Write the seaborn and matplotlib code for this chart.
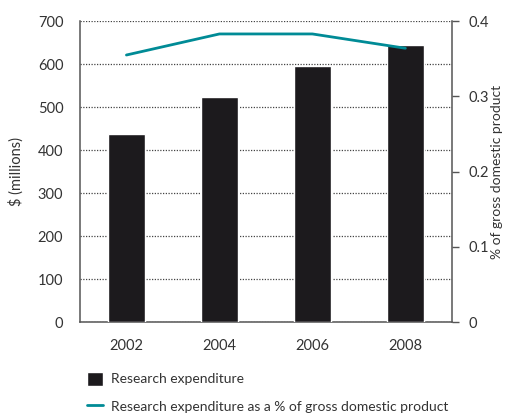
import matplotlib
matplotlib.use("Agg")
import matplotlib.pyplot as plt
import seaborn as sns
import numpy as np
import pandas as pd
from matplotlib.ticker import FixedLocator

# Research spending, 2002-2008
years = ["2002", "2004", "2006", "2008"]
expenditure = [437, 523, 595, 644]          # $ millions
pct_gdp = [0.355, 0.383, 0.383, 0.364]      # % of GDP
left_ticks = [0, 100, 200, 300, 400, 500, 600, 700]
right_ticks = [0, 0.1, 0.2, 0.3, 0.4]
right_tick_labels = ["0", "0.1", "0.2", "0.3", "0.4"]

bar_color = "#1c1a1d"
line_color = "#008b96"
axis_color = "#555555"
text_color = "#333333"

sns.set_theme(style="white")
plt.rcParams["font.family"] = ["Lato", "DejaVu Sans"]
plt.rcParams["text.color"] = text_color

df = pd.DataFrame({"year": years, "expenditure": expenditure, "pct": pct_gdp})

fig = plt.figure(figsize=(5.06, 4.15), dpi=100)
ax = fig.add_axes([0.158, 0.224, 0.735, 0.725])

sns.barplot(data=df, x="year", y="expenditure", color=bar_color, width=0.4,
            saturation=1, ax=ax, zorder=3, label="Research expenditure")
if ax.get_legend() is not None:
    ax.get_legend().remove()
ax.set_xlim(-0.5, 3.5)
ax.set_ylim(0, 700)
ax.set_yticks(left_ticks)
ax.yaxis.grid(True, linestyle=(0, (1, 1.2)), color="#444444", linewidth=0.9, zorder=0)
ax.xaxis.grid(False)
ax.set_axisbelow(True)
ax.set_xlabel("")
ax.set_ylabel("$ (millions)", fontsize=10.5, color=text_color, labelpad=10)

# category boundaries carry the tick marks
ax.xaxis.set_minor_locator(FixedLocator(np.arange(-0.5, 4.0, 1.0)))
ax.tick_params(axis="x", which="major", length=0, pad=12, labelsize=10.5, colors=text_color)
ax.tick_params(axis="x", which="minor", length=5, width=1, color=axis_color, direction="out")
ax.tick_params(axis="y", length=0, pad=12, labelsize=10.5, colors=text_color)

for s in ["top", "right"]:
    ax.spines[s].set_visible(False)
for s in ["left", "bottom"]:
    ax.spines[s].set_color(axis_color)
    ax.spines[s].set_linewidth(1.1)

ax2 = ax.twinx()
sns.lineplot(x=np.arange(len(years)), y=pct_gdp, ax=ax2, color=line_color,
             linewidth=2, label="Research expenditure as a % of gross domestic product",
             legend=False)
ax2.set_ylim(0, 0.4)
ax2.set_yticks(right_ticks)
ax2.set_yticklabels(right_tick_labels)
ax2.tick_params(axis="y", length=5, width=1, color=axis_color, pad=7,
                labelsize=10.5, colors=text_color)
for t in ax2.get_yticklines():
    t.set_color(axis_color)
ax2.grid(False)
for s in ["top", "left", "bottom"]:
    ax2.spines[s].set_visible(False)
ax2.spines["right"].set_color(axis_color)
ax2.spines["right"].set_linewidth(1.1)
ax2.set_ylabel("% of gross domestic product", fontsize=10, color=text_color,
               rotation=90)
ax2.yaxis.set_label_coords(1.105, 0.5)

h1, l1 = ax.get_legend_handles_labels()
h2, l2 = ax2.get_legend_handles_labels()
fig.legend(h1[:1] + h2, l1[:1] + l2, loc="upper left",
           bbox_to_anchor=(0.172, 0.104), frameon=False, fontsize=10,
           handlelength=1.15, handleheight=1.15, handletextpad=0.6,
           labelspacing=1.0, borderaxespad=0, borderpad=0)

fig.savefig("out.png", dpi=100)
